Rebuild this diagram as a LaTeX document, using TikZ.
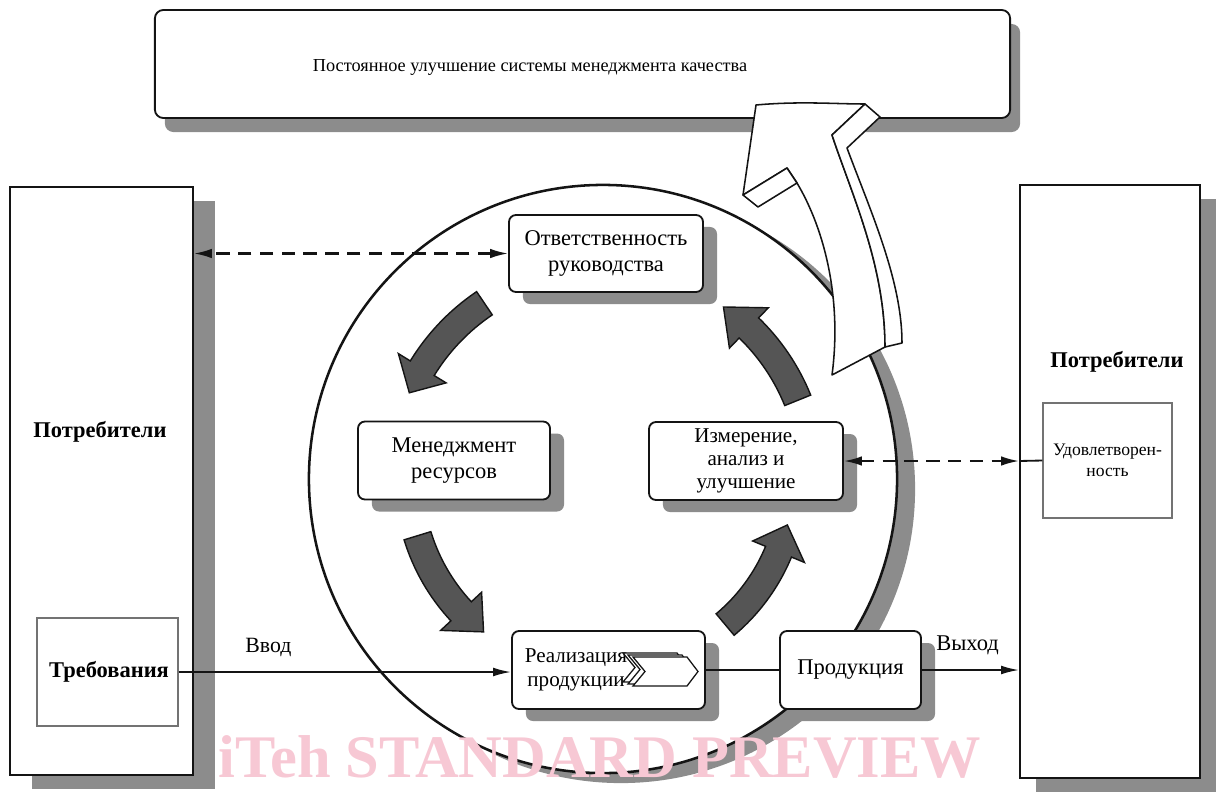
\documentclass[tikz,border=0pt]{standalone}
\usepackage{fontspec}
\setmainfont{Liberation Serif}
\usetikzlibrary{positioning,arrows.meta,shadows,calc}
\definecolor{cLine}{HTML}{141414}
\definecolor{cShade}{HTML}{8C8C8C}
\definecolor{cBlock}{HTML}{555555}
\definecolor{cMark}{HTML}{F7C8D4}
\tikzset{
  frame-box/.style={draw=cLine,line width=1.3pt,fill=white},
  frame-shadow/.style={drop shadow={shadow xshift=#1,shadow yshift=-3.5mm,
    fill=cShade,opacity=1}},
  inner-box/.style={draw=black!55,line width=0.8pt,fill=white},
  proc-box/.style={draw=cLine,line width=1.3pt,fill=white,rounded corners=5pt,
    minimum width=48mm,minimum height=19.5mm,
    drop shadow={shadow xshift=3.5mm,shadow yshift=-3mm,fill=cShade,opacity=1}},
  proc-text/.style={font=\fontsize{16}{19}\selectfont,align=center},
  head-text/.style={font=\fontsize{16}{19}\selectfont\bfseries},
  flow/.style={line width=1.3pt,draw=cLine,-{Latex[length=4.5mm,width=2.2mm]}},
  flow-dash/.style={line width=1.5pt,draw=cLine,dash pattern=on 9.5pt off 6pt,
    {Latex[length=4.5mm,width=2.4mm]}-{Latex[length=4.5mm,width=2.4mm]}},
  flow-plain/.style={line width=1.3pt,draw=cLine},
  cyc-arrow/.style={draw=cLine,line width=1pt,fill=cBlock},
  hollow/.style={draw=cLine,line width=1.1pt,fill=white,line join=round},
  chev/.style={draw=cLine,line width=0.9pt,fill=white},
}
% curved block arrow round the circle: start, tip, head base (angles), radius
\newcommand{\cycarrow}[4]{%
  \path[cyc-arrow] ($(cyc.center)+(#1:#4+14)$)
    arc[start angle=#1,end angle=#3,radius=#4+14]
    -- ($(cyc.center)+(#3:#4+28)$) -- ($(cyc.center)+(#2:#4)$)
    -- ($(cyc.center)+(#3:#4-28)$) -- ($(cyc.center)+(#3:#4-14)$)
    arc[start angle=#3,end angle=#1,radius=#4-14] -- cycle;}

\begin{document}
\begin{tikzpicture}[x=0.025cm,y=-0.025cm]
  \useasboundingbox (0,0) rectangle (1216,796);
  % outer frames
  \node[frame-box,frame-shadow=2.5mm,rounded corners=6pt,
    minimum width=213.75mm,minimum height=27mm] (qms) at (582.5,64) {};
  \node[font=\fontsize{13}{16}\selectfont] (qmstxt) at (530,67)
    {Постоянное улучшение системы менеджмента качества};
  \node[frame-box,frame-shadow=5.5mm,minimum width=45.75mm,minimum height=147mm]
    (custL) at (101.5,481) {};
  \node[head-text] (custLtxt) at (100,432) {Потребители};
  \node[inner-box,minimum width=35.25mm,minimum height=27mm] (req) at (107.5,672) {};
  \node[head-text] (reqtxt) at (109,672) {Требования};
  \node[frame-box,frame-shadow=4mm,minimum width=45mm,minimum height=148.25mm]
    (custR) at (1110,481.5) {};
  \node[head-text] (custRtxt) at (1117,362) {Потребители};
  \node[inner-box,minimum width=32.25mm,minimum height=28.75mm,align=center,
    font=\fontsize{12.5}{15}\selectfont] (sat) at (1107.5,460.5)
    {Удовлетворен-\\ность};
  % process circle
  \node[circle,draw=cLine,line width=1.8pt,fill=white,minimum size=147mm,
    drop shadow={shadow xshift=4.5mm,shadow yshift=-2.5mm,fill=cShade,opacity=1}]
    (cyc) at (603,479) {};
  \node[proc-box,minimum width=48.5mm,minimum height=19.25mm,proc-text] (resp)
    at (606,253.5) {Ответственность\\руководства};
  \node[proc-box,proc-text] (res) at (454,460.5) {Менеджмент\\ресурсов};
  \node[proc-box,minimum width=48.5mm,font=\fontsize{15}{16.5}\selectfont,
    align=center] (meas) at (746,461) {Измерение,\\анализ и\\улучшение};
  \node[proc-box,minimum width=48.25mm] (real) at (608.5,670) {};
  \node[font=\fontsize{15}{16.6}\selectfont,align=center] (realtxt) at (576,670)
    {Реализация\\продукции};
  \foreach \d in {10,5,0}{
    \begin{scope}[shift={(real.center)},shift={(-\d,-0.4*\d)}]
      \path[chev] (24.5,-13) -- (78.5,-13) -- (89.5,1.5) -- (78.5,16)
        -- (24.5,16) -- (36.5,1.5) -- cycle;
    \end{scope}}
  \node[proc-box,minimum width=35.25mm,proc-text] (prod) at (850.5,670) {Продукция};
  % cycle arrows
  \cycarrow{236}{204}{211.5}{212}
  \cycarrow{163}{128}{137}{194}
  \cycarrow{50}{14}{22.5}{190}
  \cycarrow{338}{305}{314}{210}
  % connectors
  \draw[flow-dash] (resp.west) -- (resp.west -| custL.east);
  \draw[flow-dash] (meas.east) -- (meas.east -| custR.west);
  \draw[flow-plain] (meas.east -| custR.west) -- (sat.west);
  \draw[flow] (req.east) -- node[pos=0.27,above=2.5mm,
    font=\fontsize{15.5}{18}\selectfont] {Ввод} (req.east -| real.west);
  \draw[flow-plain] (real.east) -- (prod.west);
  \draw[flow] (prod.east) -- node[pos=0.47,above=2.5mm,
    font=\fontsize{16}{19}\selectfont] {Выход} (prod.east -| custR.west);
  % hollow improvement arrow
  \path[hollow] (756,105) .. controls (800,101) and (835,104) .. (865,104)
    -- (832,135) .. controls (852,195) and (885,265) .. (885,347)
    -- (832,375) .. controls (842,300) and (825,230) .. (797,183)
    -- (787,168) -- (743,195) -- cycle;
  \path[hollow] (743,195) -- (787,168) -- (797,183) -- (758,207) -- cycle;
  \path[hollow] (865,104) -- (880,117) -- (847,148)
    .. controls (870,210) and (902,280) .. (902,343) -- (885,347)
    .. controls (885,265) and (852,195) .. (832,135) -- cycle;
  % watermark
  \node[text=cMark,anchor=base,inner sep=0pt] (mark) at (600,777)
    {\fontsize{43}{43}\selectfont\bfseries iTeh STANDARD PREVIEW};
\end{tikzpicture}
\end{document}
